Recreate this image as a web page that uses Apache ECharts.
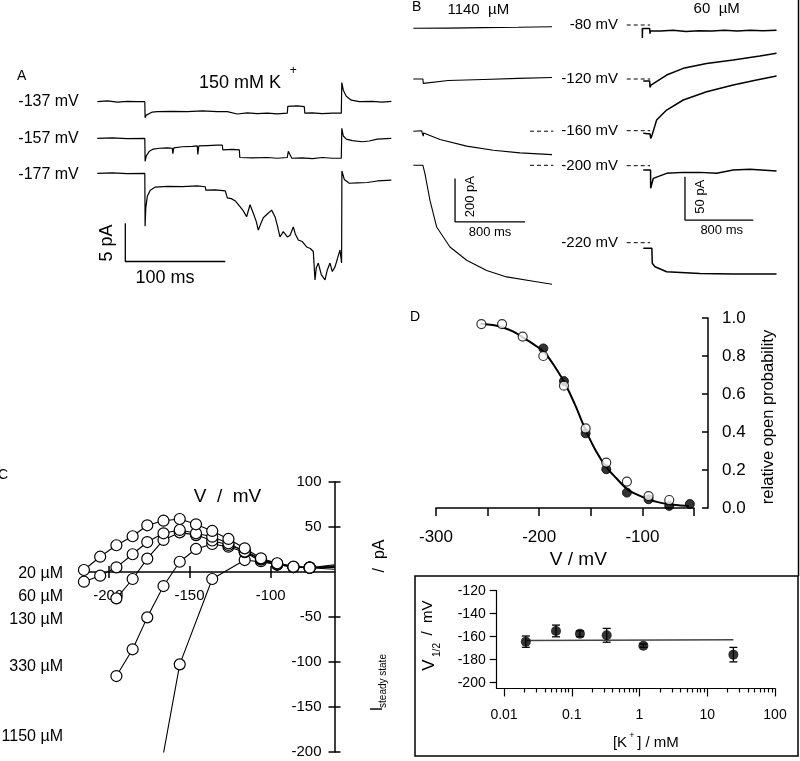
<!DOCTYPE html>
<html><head><meta charset="utf-8">
<script src="https://cdn.jsdelivr.net/npm/echarts@6/dist/echarts.min.js"></script>
<style>html,body{margin:0;padding:0;background:#fff}#c{width:800px;height:761px}</style>
</head><body><div id="c"></div>
<script>
// ===================== DATA =====================
// Panel A: single-channel traces, [time ms, current pA relative to holding level]
const traceA137 = [[0,0],[10,0.1],[20,-0.05],[30,0.05],[40,0],[47.5,0],[47.8,-2.1],[49,-1.75],[51,-1.5],[55,-1.35],[60,-1.3],[75,-1.25],[90,-1.3],[105,-1.2],[120,-1.3],[130,-1.3],[131,-1.5],[140,-1.6],[150,-1.45],[160,-1.55],[170,-1.5],[180,-1.6],[190,-1.5],[190.5,-0.6],[200,-0.55],[207,-0.65],[207.5,-1.5],[215,-1.45],[225,-1.55],[235,-1.5],[244,-1.5],[244.5,2.5],[246,1.5],[249,0.7],[254,0.2],[262,0],[275,0.05],[285,-0.05],[294,0.05]];
const traceA157 = [[0,0],[15,0.05],[30,-0.05],[47.5,0],[47.8,-3],[49,-2.3],[52,-1.7],[56,-1.4],[62,-1.3],[70,-1.25],[75,-1.3],[75.5,-2],[76.5,-1.25],[85,-1.1],[95,-1.05],[100,-1.0],[100.5,-2.1],[101.5,-1.0],[110,-0.95],[120,-0.9],[125,-0.9],[125.5,-1.5],[135,-1.45],[142,-1.5],[142.5,-2.5],[155,-2.55],[170,-2.5],[180,-2.6],[190,-2.5],[191,-1.7],[193,-1.65],[194.5,-2.6],[205,-2.55],[215,-2.65],[225,-2.5],[235,-2.6],[244,-2.6],[244.5,1.3],[246,0.3],[249,-0.1],[255,-0.3],[265,-0.45],[272,-0.35],[280,-0.1],[294,0]];
const traceA177 = [[0,0],[15,0.05],[30,-0.05],[47.5,0],[47.8,-6.9],[48.5,-4.5],[50,-3],[53,-2.2],[58,-1.8],[70,-1.7],[85,-1.75],[100,-1.65],[108,-1.75],[108.5,-2.2],[118,-2.15],[128,-2.3],[130,-3.2],[134,-3.3],[138,-3.6],[142.7,-4.35],[146,-4.9],[149.3,-5.66],[152.7,-4.1],[156,-5.2],[159,-6.3],[161,-7.4],[164,-6.4],[166,-5.8],[170,-5.3],[174.3,-4.8],[177.7,-5.66],[180,-6.8],[182.7,-8.3],[186,-7.6],[190,-8.3],[192.7,-8.1],[196,-7.0],[198,-7.9],[201,-8.7],[205,-8.9],[209.3,-9.6],[213,-9.8],[216,-10.2],[217.7,-13.9],[219,-12.3],[221,-11.7],[224,-13.2],[227.7,-13.9],[230,-12.6],[232.7,-11.7],[235,-12.8],[237.7,-12.2],[240,-11.2],[242.7,-10],[244.3,-11.7],[244.6,0.3],[247,-0.8],[252,-1.3],[260,-1.25],[270,-1.2],[280,-1.0],[294,-0.9]];
const scaleBarA = [[28,-6.5],[28,-11.5],[128,-11.5]]; // 5 pA, 100 ms

// Panel B: whole-cell traces, [time ms, current pA relative to zero level]
const traceB1140_80  = [[0,0],[400,1],[800,3],[1200,5],[1585,7]];
const traceB1140_120 = [[0,0],[110,0],[114,-20],[118,-12],[400,-7],[800,-2],[1200,3],[1585,7]];
const traceB1140_160 = [[0,0],[95,2],[112,0],[114,-23],[118,-8],[133,-8],[305,-38],[610,-69],[914,-88],[1219,-100],[1585,-108]];
const traceB1140_200 = [[0,0],[110,0],[133,-38],[190,-161],[267,-285],[419,-377],[610,-438],[838,-485],[1067,-515],[1371,-535],[1585,-549]];
const traceB60_80  = [[-12,-4],[-11,-15],[-9,-4],[75,-4],[78,-10],[82,-6.5],[200,-7],[350,-6],[500,-7.5],[650,-6.5],[800,-7],[950,-6],[1100,-6.8],[1250,-6],[1400,-6.5],[1560,-6]];
const traceB60_120 = [[0,-2.3],[75,-2.3],[78,-9.6],[90,-7],[98,-6.9],[273,4.6],[468,12.3],[741,18],[1053,21.9],[1365,26.5],[1560,29.6]];
const traceB60_160 = [[0,-3],[80,-3.8],[86,-8.8],[100,-6],[156,12.3],[273,23.8],[468,35.4],[741,45],[1053,52.7],[1326,58.5],[1560,63]];
const traceB60_200 = [[0,-5],[85,-5],[86,-26],[117,-14.6],[273,-8.8],[468,-7.7],[663,-7.7],[858,-8.8],[1053,-5],[1248,-4.2],[1560,-6.2]];
const traceB60_220 = [[0,-6.5],[100,-6.5],[105,-23.8],[137,-27.7],[273,-33.5],[663,-35.4],[1053,-36.2],[1560,-36.2]];
const zeroDashRight = [[-194,0],[80,0]];
const zeroDashLeft = [[1334,0],[1600,0]];
const scaleBarBLeft = [[477,-61],[477,-261],[1277,-261]];   // 200 pA, 800 ms
const scaleBarBRight = [[488,-12.7],[488,-62.7],[1288,-62.7]]; // 50 pA, 800 ms

// Panel C: steady-state I-V curves (mV, pA)
const vC = [-215,-205,-195,-185,-176,-166,-156,-146,-136,-126,-116,-106,-96,-86,-76];
const iC20  = [2.2,17,29.7,39.7,51.9,57,58.9,53,45.6,36.7,26.3,15.2,9.7,5.9,4.8];
const iC60  = [-10.8,-4.1,5.2,19.7,33.3,43,46.7,43,39.2,31.9,22.6,14,9,5.5,4.8];
const vC130 = [-195,-185,-176,-166,-156,-146,-136,-126,-116,-106,-96,-86,-76];
const iC130 = [-29.3,-7.8,14.8,35.6,44,41,35,30,24,14,8.5,5.5,4.8];
const vC330 = [-195,-185,-176,-166,-156,-146,-136,-126,-116,-106,-96,-86,-76];
const iC330 = [-115.6,-85.9,-50.4,-15.6,11.4,25.6,31.1,28.1,22,12,8,5.5,4.8];
const vC1150 = [-156,-136,-116,-96,-76];
const iC1150 = [-102.6,-7.8,13.3,9,4.8];
const cLabels = ['20 µM','60 µM','130 µM','330 µM','1150 µM'];
const cXTicks = [-200,-150,-100];
const cYTicks = [-200,-150,-100,-50,50,100];
const cYMin = -200, cYMax = 100;

// Panel D: relative open probability
const vDOpen = [-256,-236,-216,-196,-176,-155,-135,-115,-94,-74];
const pDOpen = [0.968,0.968,0.902,0.8,0.644,0.419,0.239,0.139,0.063,0.042];
const vDFilled = [-196,-176,-155,-135,-115,-94,-74,-54];
const pDFilled = [0.84,0.668,0.393,0.204,0.081,0.046,0.011,0.021];
const vDFit = [-257,-245,-235,-225,-215,-205,-195,-185,-175,-165,-155,-145,-135,-125,-115,-105,-95,-85,-75,-65,-55];
const pDFit = [0.97,0.963,0.95,0.928,0.895,0.86,0.82,0.745,0.655,0.54,0.41,0.3,0.215,0.155,0.1,0.07,0.047,0.031,0.021,0.014,0.01];

// Inset: V1/2 vs [K+]
const kConc = [0.021,0.0585,0.132,0.328,1.14,24.3];
const v12 = [-164.3,-155,-157.4,-158.8,-167.8,-175.6];
const v12Err = [4.9,5.1,2.5,6,1.5,6.3];
const v12Fit = [[0.021,-163.3],[24.3,-162.7]];
const kMajor = [0.01,0.1,1,10,100];
const kMinor = [0.02,0.03,0.04,0.05,0.06,0.07,0.08,0.09,0.2,0.3,0.4,0.5,0.6,0.7,0.8,0.9,2,3,4,5,6,7,8,9,20,30,40,50,60,70,80,90];
const v12Ticks = [-200,-180,-160,-140,-120];

// ===================== BUILD =====================
const FONT = '"Liberation Sans", Arial, Helvetica, sans-serif';
const grids = [], xAxes = [], yAxes = [], series = [];
const BLK = '#000';
function addGrid(g, xs, ys) {
  grids.push(Object.assign({containLabel:false, outerBoundsMode:'none'}, g));
  const gi = grids.length - 1;
  const xi = [], yi = [];
  (Array.isArray(xs) ? xs : [xs]).forEach(x => { xAxes.push(Object.assign({gridIndex: gi}, x)); xi.push(xAxes.length - 1); });
  (Array.isArray(ys) ? ys : [ys]).forEach(y => { yAxes.push(Object.assign({gridIndex: gi}, y)); yi.push(yAxes.length - 1); });
  return {gi, xi: xi[0], yi: yi[0]};
}
const hid = (min, max) => ({type:'value', min, max, show:false, splitLine:{show:false}});
function traceGrid(left, baseline, pxX, xmin, xmax, pxY, ymin, ymax) {
  return addGrid({left, top: baseline - ymax*pxY, width: (xmax - xmin)*pxX, height: (ymax - ymin)*pxY},
    hid(xmin, xmax), hid(ymin, ymax));
}
function line(ax, data, opt) {
  series.push(Object.assign({type:'line', xAxisIndex: ax.xi, yAxisIndex: ax.yi, data, symbol:'none',
    lineStyle:{color:BLK, width:1.3}, silent:true, animation:false}, opt || {}));
}
const dashStyle = {lineStyle:{color:BLK, width:1, type:[4,3]}};

// ---- Panel A
const pxA = 7.67;
[[traceA137, 101.7],[traceA157, 138.3],[traceA177, 173.3]].forEach(([tr, base], k) => {
  const ax = traceGrid(97.3, base, 1.0, 0, 295, pxA, -15, 4);
  line(ax, tr, {lineStyle:{color:BLK, width:1.2}});
  if (k === 2) line(ax, scaleBarA, {lineStyle:{color:BLK, width:1.3}});
});

// ---- Panel B left (1140 uM)
const pxBLy = 0.2167, pxBLx = 0.0875;
[[traceB1140_80, 28.3],[traceB1140_120, 79],[traceB1140_160, 131.2],[traceB1140_200, 165.3]].forEach(([tr, base], k) => {
  const ax = traceGrid(413.3, base, pxBLx, 0, 1600, pxBLy, -600, 60);
  line(ax, tr, {lineStyle:{color:BLK, width:1.1}});
  if (k >= 2) line(ax, zeroDashLeft, dashStyle);
  if (k === 3) line(ax, scaleBarBLeft, {lineStyle:{color:BLK, width:1.3}});
});
// ---- Panel B right (60 uM)
const pxBRy = 0.867, pxBRx = 0.0854;
[[traceB60_80, 25],[traceB60_120, 79],[traceB60_160, 130.7],[traceB60_200, 165.7],[traceB60_220, 242.7]].forEach(([tr, base], k) => {
  const ax = traceGrid(643.3 - 200*pxBRx, base, pxBRx, -200, 1600, pxBRy, -70, 70);
  line(ax, tr, {lineStyle:{color:BLK, width:1.5}});
  line(ax, zeroDashRight, dashStyle);
  if (k === 3) line(ax, scaleBarBRight, {lineStyle:{color:BLK, width:1.3}});
});

// ---- Panel C
const axLab = (size, extra) => Object.assign({color:BLK, fontSize:size, fontFamily:FONT}, extra || {});
const cH = 270, cW = 252.2;
const cZeroFromTop = cH * cYMax / (cYMax - cYMin);
const cAx = addGrid({left:82.3, top:482, width:cW, height:cH},
  [
    {type:'value', min:-216, max:-60.7, position:'bottom', offset:-(cH - cZeroFromTop),
     axisLine:{onZero:false, lineStyle:{color:BLK, width:1.5}},
     axisTick:{show:true, length:6, customValues:cXTicks, lineStyle:{color:BLK, width:1.5}},
     axisLabel:axLab(15, {margin:16, customValues:cXTicks}), splitLine:{show:false}},
    {type:'value', min:-216, max:-60.7, position:'top', offset:-cZeroFromTop, axisLine:{show:false, onZero:false},
     axisTick:{show:true, length:6, customValues:cXTicks, lineStyle:{color:BLK, width:1.5}},
     axisLabel:{show:false}, splitLine:{show:false}}
  ],
  [
    {type:'value', min:cYMin, max:cYMax, position:'right', axisLine:{onZero:false, lineStyle:{color:BLK, width:1.5}},
     axisTick:{show:true, length:6, customValues:cYTicks, lineStyle:{color:BLK, width:1.5}},
     axisLabel:axLab(15, {inside:true, margin:13, customValues:cYTicks}), splitLine:{show:false}},
    {type:'value', min:cYMin, max:cYMax, position:'left', offset:-cW, axisLine:{show:false, onZero:false},
     axisTick:{show:true, length:6, customValues:cYTicks, lineStyle:{color:BLK, width:1.5}},
     axisLabel:{show:false}, splitLine:{show:false}}
  ]);
const openSym = {symbol:'circle', symbolSize:11, itemStyle:{color:'#fff', borderColor:BLK, borderWidth:1.2}, lineStyle:{color:BLK, width:1.1}, silent:true, animation:false};
function cSeries(vs, is, tail, head) {
  const d = vs.map((v, i) => [v, is[i]]);
  if (head) d.unshift({value: head, symbol:'none'});
  d.push({value: tail, symbol:'none'});
  series.push(Object.assign({type:'line', xAxisIndex:cAx.xi, yAxisIndex:cAx.yi, data:d, clip:true}, openSym));
}
cSeries(vC1150, iC1150, [-60.7, 3], [-176, -300]);
cSeries(vC330, iC330, [-60.7, 5]);
cSeries(vC130, iC130, [-60.7, 6]);
cSeries(vC, iC60, [-60.7, 7]);
cSeries(vC, iC20, [-60.7, 8]);

// ---- Panel D
const dAx = addGrid({left:436, top:318, width:258, height:190},
  {type:'value', min:-300, max:-50, interval:50, axisLine:{lineStyle:{color:BLK, width:1.5}},
   axisTick:{length:8, lineStyle:{color:BLK, width:1.5}},
   axisLabel:axLab(17, {margin:21, formatter: v => (v % 100 === 0 ? String(v) : '')}), splitLine:{show:false}},
  {type:'value', min:0, max:1, interval:0.2, position:'right', offset:14,
   axisLine:{onZero:false, lineStyle:{color:BLK, width:1.5}},
   axisTick:{inside:true, length:6, lineStyle:{color:BLK, width:1.5}},
   axisLabel:axLab(17, {margin:14, formatter: v => v.toFixed(1)}), splitLine:{show:false}});
series.push({type:'line', xAxisIndex:dAx.xi, yAxisIndex:dAx.yi, data:vDFit.map((v,i)=>[v,pDFit[i]]), smooth:0.3, symbol:'none', lineStyle:{color:BLK, width:2}, silent:true, animation:false});
series.push({type:'scatter', xAxisIndex:dAx.xi, yAxisIndex:dAx.yi, data:vDFilled.map((v,i)=>[v,pDFilled[i]]), symbol:'circle', symbolSize:9, itemStyle:{color:BLK, borderColor:BLK, borderWidth:1}, silent:true, animation:false, z:3});
series.push({type:'scatter', xAxisIndex:dAx.xi, yAxisIndex:dAx.yi, data:vDOpen.map((v,i)=>[v,pDOpen[i]]), symbol:'circle', symbolSize:9, itemStyle:{color:'#fff', borderColor:BLK, borderWidth:1.2}, silent:true, animation:false, z:4});

// ---- Inset
const insH = 97.75;
const iAx = addGrid({left:496.7, top:590.7, width:278.3, height:insH},
  [
    {type:'log', logBase:10, min:0.0078, max:100, position:'bottom', axisLine:{onZero:false, lineStyle:{color:BLK, width:1.2}},
     axisTick:{length:8, customValues:kMajor, lineStyle:{color:BLK, width:1.2}},
     axisLabel:axLab(14, {margin:20, customValues:kMajor, formatter: v => String(+(+v).toPrecision(3))}), splitLine:{show:false}},
    {type:'log', logBase:10, min:0.0078, max:100, position:'top', offset:-insH, axisLine:{show:false, onZero:false},
     axisTick:{inside:true, length:4, customValues:kMinor, lineStyle:{color:BLK, width:1.2}},
     axisLabel:{show:false}, splitLine:{show:false}}
  ],
  {type:'value', min:-205, max:-120, axisLine:{onZero:false, lineStyle:{color:BLK, width:1.2}},
   axisTick:{length:7, customValues:v12Ticks, lineStyle:{color:BLK, width:1.2}},
   axisLabel:axLab(14, {margin:11, customValues:v12Ticks}), splitLine:{show:false}});
series.push({type:'line', xAxisIndex:iAx.xi, yAxisIndex:iAx.yi, data:v12Fit, symbol:'none', lineStyle:{color:'#444', width:1.5}, silent:true, animation:false});
series.push({type:'custom', xAxisIndex:iAx.xi, yAxisIndex:iAx.yi, silent:true, animation:false,
  data:kConc.map((k,i)=>[k, v12[i], v12Err[i]]),
  renderItem:(params, api) => {
    const x = api.value(0), y = api.value(1), e = api.value(2);
    const t = api.coord([x, y + e]), b = api.coord([x, y - e]);
    const st = {stroke:BLK, lineWidth:1.3};
    return {type:'group', children:[
      {type:'line', shape:{x1:t[0], y1:t[1], x2:b[0], y2:b[1]}, style:st},
      {type:'line', shape:{x1:t[0]-4, y1:t[1], x2:t[0]+4, y2:t[1]}, style:st},
      {type:'line', shape:{x1:b[0]-4, y1:b[1], x2:b[0]+4, y2:b[1]}, style:st}]};
  }});
series.push({type:'scatter', xAxisIndex:iAx.xi, yAxisIndex:iAx.yi, data:kConc.map((k,i)=>[k, v12[i]]), symbol:'circle', symbolSize:10, itemStyle:{color:BLK}, silent:true, animation:false, z:4});

// ---- Texts
function T(text, x, y, size, o) {
  o = o || {};
  const al = o.align || 'center', va = o.va || 'middle';
  const el = {type:'text', x, y, silent:true, z:100,
    style:{text, font:`${size}px ${FONT}`, fill:BLK, align:al, verticalAlign:va, textAlign:al, textVerticalAlign:va}};
  if (o.rot != null) el.rotation = o.rot;
  return el;
}
const R = Math.PI / 2;
const texts = [
  T('A', 21.7, 76, 14), T('B', 416.7, 7.5, 14), T('C', 3, 475, 14), T('D', 415, 316.7, 14),
  T('150 mM K', 240, 83.5, 18), T('+', 293.3, 70.7, 12),
  T('-137 mV', 18.3, 101.7, 16, {align:'left'}), T('-157 mV', 18.3, 138.3, 16, {align:'left'}), T('-177 mV', 18.3, 175, 16, {align:'left'}),
  T('5 pA', 106.7, 243, 18, {rot:R}), T('100 ms', 165, 278.3, 18),
  T('1140  µM', 478.3, 10, 15), T('60  µM', 716.7, 8.5, 15),
  T('-80 mV', 618, 25, 15, {align:'right'}), T('-120 mV', 618, 79, 15, {align:'right'}), T('-160 mV', 618, 130.7, 15, {align:'right'}),
  T('-200 mV', 618, 165.7, 15, {align:'right'}), T('-220 mV', 618, 242.7, 15, {align:'right'}),
  T('200 pA', 470, 196.7, 13, {rot:R}), T('800 ms', 490, 232.3, 13),
  T('50 pA', 700, 196.7, 13, {rot:R}), T('800 ms', 721.7, 230, 13),
  T('V  /  mV', 227.5, 496.7, 19),
  T('I', 378, 709, 16, {rot:R}), T('steady state', 383.5, 681, 10, {rot:R}), T('/  pA', 380, 556, 16, {rot:R}),
  T(cLabels[0], 63, 573.3, 16, {align:'right'}), T(cLabels[1], 63, 596.7, 16, {align:'right'}), T(cLabels[2], 63, 620, 16, {align:'right'}),
  T(cLabels[3], 63, 666.7, 16, {align:'right'}), T(cLabels[4], 63, 736.7, 16, {align:'right'}),
  T('V / mV', 578.3, 560, 19), T('relative open probability', 768, 417, 16.5, {rot:R}),
  T('V', 429, 665, 17, {rot:R}), T('1/2', 437, 650, 10, {rot:R}), T('/  mV', 428, 618, 15, {rot:R}),
  T('[K', 620, 743, 15), T('+', 632, 736, 9), T('] / mM', 658, 743, 15)
];
const shapes = [
  {type:'rect', silent:true, shape:{x:415, y:576, width:383, height:180}, style:{fill:'none', stroke:BLK, lineWidth:1.5}},
  {type:'line', silent:true, shape:{x1:798.5, y1:0, x2:798.5, y2:576}, style:{stroke:BLK, lineWidth:1.5}}
];

const chart = echarts.init(document.getElementById('c'), null, {renderer:'canvas', width:800, height:761});
chart.setOption({
  animation:false, backgroundColor:'#fff',
  grid:grids, xAxis:xAxes, yAxis:yAxes, series,
  graphic:{elements: shapes.concat(texts)}
});
</script></body></html>
